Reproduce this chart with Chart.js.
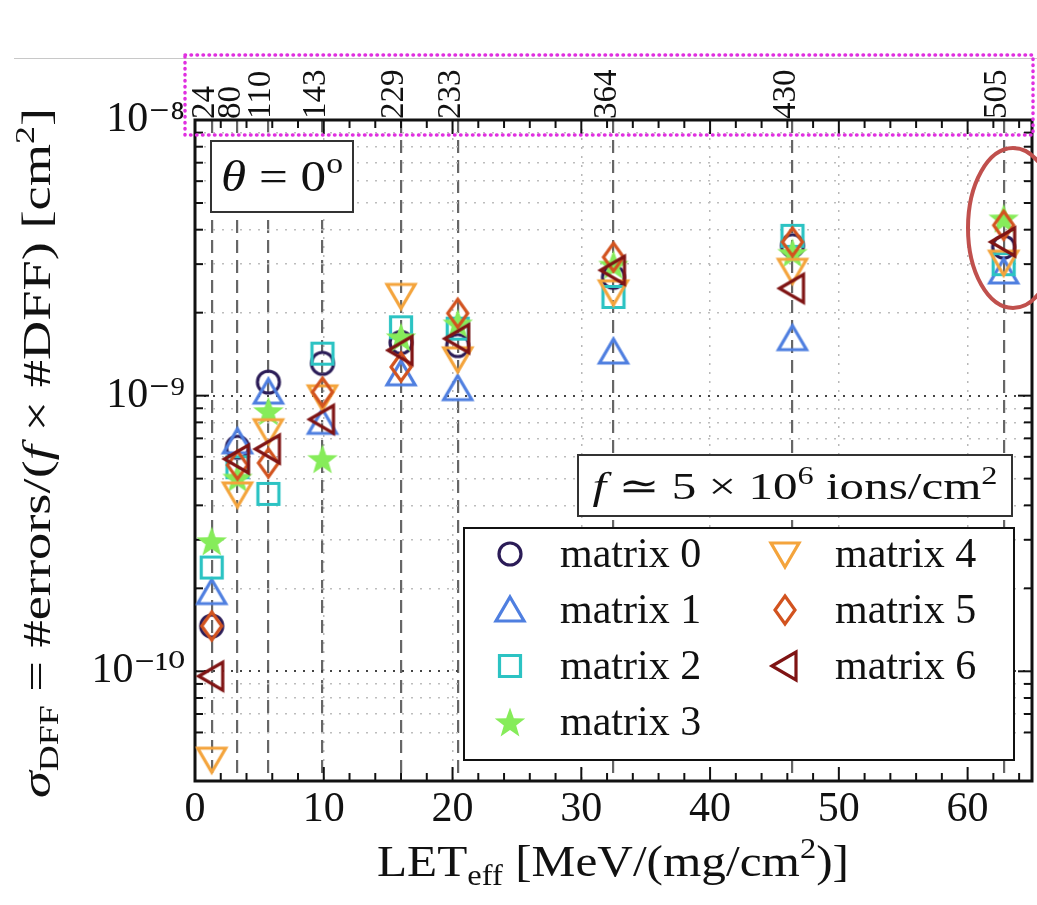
<!DOCTYPE html>
<html>
<head>
<meta charset="utf-8">
<script src="https://cdn.jsdelivr.net/npm/chart.js@4.4.1/dist/chart.umd.min.js"></script>
<style>
  html, body { margin: 0; padding: 0; background: #fff; }
  canvas { display: block; }
</style>
</head>
<body>
<canvas id="sigmaChart" width="1037" height="905"></canvas>
<script>
// LET of each beam and the beam labels printed on the top axis
const letValues = [1.3, 3.3, 5.7, 9.9, 16.0, 20.4, 32.5, 46.4, 62.8];
const beamLabels = ['24', '80', '110', '143', '229', '233', '364', '430', '505'];

const xTickValues = [0, 10, 20, 30, 40, 50, 60];
const yTickValues = [1e-10, 1e-9, 1e-8];
const yTickLabels = ['10⁻¹⁰', '10⁻⁹', '10⁻⁸'];

const matrixNames = ['matrix 0', 'matrix 1', 'matrix 2', 'matrix 3', 'matrix 4', 'matrix 5', 'matrix 6'];

// cross sections [cm^2], one value per beam
const matrix0 = [1.46e-10, 6.5e-10, 1.12e-9, 1.31e-9, 1.56e-9, 1.52e-9, 2.69e-9, 3.5e-9, 3.46e-9];
const matrix1 = [1.93e-10, 6.8e-10, 1.03e-9, 8.0e-10, 1.20e-9, 1.06e-9, 1.44e-9, 1.61e-9, 2.81e-9];
const matrix2 = [2.38e-10, 5.5e-10, 4.4e-10, 1.42e-9, 1.77e-9, 1.75e-9, 2.28e-9, 3.8e-9, 3.0e-9];
const matrix3 = [2.97e-10, 5.05e-10, 8.8e-10, 5.9e-10, 1.63e-9, 1.83e-9, 2.99e-9, 3.3e-9, 4.4e-9];
const matrix4 = [4.8e-11, 4.4e-10, 7.46e-10, 9.9e-10, 2.31e-9, 1.36e-9, 2.38e-9, 2.85e-9, 3.05e-9];
const matrix5 = [1.46e-10, 5.6e-10, 5.7e-10, 1.03e-9, 1.27e-9, 1.99e-9, 3.18e-9, 3.61e-9, 4.15e-9];
const matrix6 = [9.6e-11, 5.89e-10, 6.4e-10, 8.2e-10, 1.46e-9, 1.61e-9, 2.85e-9, 2.45e-9, 3.61e-9];

const seriesValues = [matrix0, matrix1, matrix2, matrix3, matrix4, matrix5, matrix6];
const seriesColors = ['#2b1c57', '#4f7fe0', '#2cc3c3', '#86ec5a', '#f4a43c', '#d2531f', '#7f1414'];
const seriesShapes = ['circle', 'up', 'square', 'star', 'down', 'diamond', 'left'];

const SERIF = "'Liberation Serif', 'DejaVu Serif', serif";

// minor grid values for the log axis
const yGridValues = [];
for (let e = -11; e <= -9; e++) {
    for (let m = 1; m <= 9; m++) {
        const v = m * Math.pow(10, e);
        if (v >= 5e-11 && v <= 1.0001e-8) yGridValues.push(v);
    }
}
yGridValues.push(1e-8);

function isDecade(v) {
    const e = Math.log10(v);
    return Math.abs(e - Math.round(e)) < 1e-6;
}

// draw marker shapes on small canvases so the plot and legend share them
function makeMarker(shape, color) {
    const c = document.createElement('canvas');
    c.width = 40; c.height = 40;
    const g = c.getContext('2d');
    const m = 20;
    g.strokeStyle = color;
    g.fillStyle = color;
    g.lineWidth = 3.2;
    g.lineJoin = 'miter';
    g.beginPath();
    if (shape === 'circle') {
        g.arc(m, m, 11, 0, Math.PI * 2);
    } else if (shape === 'square') {
        g.rect(m - 10.5, m - 10.5, 21, 21);
    } else if (shape === 'up') {
        g.moveTo(m, m - 13); g.lineTo(m + 14, m + 11); g.lineTo(m - 14, m + 11); g.closePath();
    } else if (shape === 'down') {
        g.moveTo(m, m + 13); g.lineTo(m + 14, m - 11); g.lineTo(m - 14, m - 11); g.closePath();
    } else if (shape === 'left') {
        g.moveTo(m - 13, m); g.lineTo(m + 11, m - 14); g.lineTo(m + 11, m + 14); g.closePath();
    } else if (shape === 'diamond') {
        g.moveTo(m, m - 14); g.lineTo(m + 10, m); g.lineTo(m, m + 14); g.lineTo(m - 10, m); g.closePath();
    } else if (shape === 'star') {
        for (let i = 0; i < 10; i++) {
            const r = i % 2 === 0 ? 16 : 6.5;
            const a = -Math.PI / 2 + i * Math.PI / 5;
            const px = m + r * Math.cos(a), py = m + 1.5 + r * Math.sin(a);
            if (i === 0) g.moveTo(px, py); else g.lineTo(px, py);
        }
        g.closePath();
        g.fill();
        return c;
    }
    g.stroke();
    return c;
}

const markers = seriesShapes.map((s, i) => makeMarker(s, seriesColors[i]));

const datasets = seriesValues.map((vals, i) => ({
    label: matrixNames[i],
    data: vals.map((v, j) => ({ x: letValues[j], y: v })),
    pointStyle: markers[i],
    pointRadius: 13,
    borderColor: seriesColors[i],
    backgroundColor: seriesColors[i],
    order: 6 - i
}));

// text with italic / sub / superscript runs, optionally stretched to a width
function drawRich(ctx, runs, opts) {
    const base = opts.size;
    let total = 0;
    const parts = runs.map(r => {
        const size = (r.sub || r.sup) ? base * 0.66 : base;
        const font = (r.italic ? 'italic ' : '') + size + 'px ' + SERIF;
        ctx.font = font;
        const w = ctx.measureText(r.t).width;
        total += w;
        return { t: r.t, font: font, w: w, dy: r.sub ? base * 0.2 : (r.sup ? -base * 0.4 : 0) };
    });
    ctx.save();
    ctx.translate(opts.x, opts.y);
    if (opts.rotate) ctx.rotate(opts.rotate);
    if (opts.width) ctx.scale(opts.width / total, 1);
    ctx.fillStyle = '#111';
    ctx.textBaseline = 'alphabetic';
    ctx.textAlign = 'left';
    let x = opts.align === 'left' ? 0 : -total / 2;
    parts.forEach(p => {
        ctx.font = p.font;
        ctx.fillText(p.t, x, p.dy);
        x += p.w;
    });
    ctx.restore();
}

function line(ctx, x1, y1, x2, y2) {
    ctx.beginPath();
    ctx.moveTo(x1, y1);
    ctx.lineTo(x2, y2);
    ctx.stroke();
}

// keep the plot area fixed: no extra side padding from edge labels
function noSidePadding(scale) {
    scale.paddingLeft = 0;
    scale.paddingRight = 0;
}

const decorPlugin = {
    id: 'decor',
    beforeDatasetsDraw(chart) {
        const ctx = chart.ctx;
        const a = chart.chartArea;
        const xs = chart.scales.x, ys = chart.scales.y;
        ctx.save();
        ctx.strokeStyle = '#111';
        ctx.lineWidth = 2;
        // inward ticks
        for (let v = 0; v <= 64; v += 2) {
            const px = xs.getPixelForValue(v);
            const len = v % 10 === 0 ? 14 : 8;
            line(ctx, px, a.bottom, px, a.bottom - len);
            line(ctx, px, a.top, px, a.top + len);
        }
        yGridValues.forEach(v => {
            const py = ys.getPixelForValue(v);
            const len = isDecade(v) ? 14 : 8;
            line(ctx, a.left, py, a.left + len, py);
            line(ctx, a.right, py, a.right - len, py);
        });
        ctx.lineWidth = 3;
        ctx.strokeRect(a.left, a.top, a.right - a.left, a.bottom - a.top);
        ctx.restore();
    },
    afterDatasetsDraw(chart) {
        const ctx = chart.ctx;
        ctx.save();

        // theta box
        ctx.fillStyle = '#fff';
        ctx.strokeStyle = '#333';
        ctx.lineWidth = 2;
        ctx.fillRect(211, 141, 142, 71);
        ctx.strokeRect(211, 141, 142, 71);
        drawRich(ctx, [{ t: 'θ', italic: true }, { t: ' = 0' }, { t: 'o', sup: true }],
            { x: 282, y: 191, size: 44, width: 122 });

        // fluence box
        ctx.fillStyle = '#fff';
        ctx.fillRect(578, 455, 434, 61);
        ctx.strokeRect(578, 455, 434, 61);
        drawRich(ctx, [{ t: 'f', italic: true }, { t: ' ≃ 5 × 10' }, { t: '6', sup: true },
            { t: ' ions/cm' }, { t: '2', sup: true }],
            { x: 795, y: 499, size: 38, width: 405 });

        // legend
        ctx.fillStyle = '#fff';
        ctx.fillRect(464, 528, 550, 232);
        ctx.strokeStyle = '#111';
        ctx.strokeRect(464, 528, 550, 232);
        const rowsY = [554, 610, 666, 722];
        matrixNames.forEach((name, i) => {
            const col = i < 4 ? 0 : 1;
            const row = i < 4 ? i : i - 4;
            const mx = col === 0 ? 510 : 785;
            const my = rowsY[row];
            const mk = markers[i];
            ctx.drawImage(mk, mx - mk.width / 2, my - mk.height / 2);
            drawRich(ctx, [{ t: name }], { x: mx + 50, y: my + 13, size: 42, align: 'left' });
        });

        // axis titles
        drawRich(ctx, [{ t: 'σ', italic: true }, { t: 'DFF', sub: true }, { t: ' = #errors/(' },
            { t: 'f', italic: true }, { t: ' × #DFF) [cm' }, { t: '2', sup: true }, { t: ']' }],
            { x: 50, y: 453, size: 40, rotate: -Math.PI / 2, width: 690 });
        drawRich(ctx, [{ t: 'LET' }, { t: 'eff', sub: true }, { t: ' [MeV/(mg/cm' }, { t: '2', sup: true }, { t: ')]' }],
            { x: 613, y: 876, size: 44, width: 472 });
        ctx.restore();
    },
    afterDraw(chart) {
        const ctx = chart.ctx;
        ctx.save();
        ctx.strokeStyle = '#c8c8c8';
        ctx.lineWidth = 1;
        line(ctx, 14, 58.5, 1037, 58.5);

        // dotted highlight round the beam labels
        ctx.strokeStyle = '#e030e0';
        ctx.lineWidth = 3.5;
        ctx.lineCap = 'round';
        ctx.setLineDash([0.5, 5.5]);
        ctx.strokeRect(185, 55, 848, 80);
        ctx.setLineDash([]);

        // red ellipse round the 505 beam
        ctx.strokeStyle = '#c0504d';
        ctx.lineWidth = 4;
        ctx.beginPath();
        ctx.ellipse(1013, 228, 45, 80, 0, 0, Math.PI * 2);
        ctx.stroke();
        ctx.restore();
    }
};

const canvas = document.getElementById('sigmaChart');

new Chart(canvas.getContext('2d'), {
    type: 'scatter',
    data: { datasets: datasets },
    options: {
        responsive: false,
        devicePixelRatio: 1,
        animation: false,
        layout: { autoPadding: false, padding: { left: 0, right: 5, top: 0, bottom: 0 } },
        plugins: {
            legend: { display: false },
            tooltip: { enabled: false }
        },
        scales: {
            x: {
                type: 'linear',
                position: 'bottom',
                min: 0,
                max: 65,
                afterBuildTicks: scale => { scale.ticks = xTickValues.map(v => ({ value: v })); },
                afterFit: scale => { scale.height = 124; noSidePadding(scale); },
                ticks: {
                    font: { family: SERIF, size: 42 },
                    color: '#111',
                    padding: 4,
                    maxRotation: 0,
                    autoSkip: false
                },
                grid: { color: '#b8b8b8', lineWidth: 1.5, drawTicks: false },
                border: { display: false, dash: [2, 7] }
            },
            xTop: {
                type: 'linear',
                position: 'top',
                min: 0,
                max: 65,
                afterBuildTicks: scale => { scale.ticks = letValues.map(v => ({ value: v })); },
                afterFit: scale => { scale.height = 120; noSidePadding(scale); },
                ticks: {
                    callback: (value, index) => beamLabels[index],
                    font: { family: SERIF, size: 33 },
                    color: '#111',
                    padding: 1,
                    labelOffset: 33,
                    minRotation: 90,
                    maxRotation: 90,
                    autoSkip: false
                },
                grid: { color: '#666', lineWidth: 2.2, drawTicks: false },
                border: { display: false, dash: [13, 7] }
            },
            y: {
                type: 'logarithmic',
                position: 'left',
                min: 4e-11,
                max: 1e-8,
                afterBuildTicks: scale => { scale.ticks = yGridValues.map(v => ({ value: v })); },
                afterFit: scale => { scale.width = 195; },
                ticks: {
                    callback: value => {
                        const k = yTickValues.findIndex(t => Math.abs(t - value) / t < 1e-6);
                        return k >= 0 ? yTickLabels[k] : '';
                    },
                    font: { family: SERIF, size: 42 },
                    color: '#111',
                    padding: 10,
                    autoSkip: false
                },
                grid: {
                    color: c => (c.tick && isDecade(c.tick.value)) ? '#444' : '#bdbdbd',
                    lineWidth: c => (c.tick && isDecade(c.tick.value)) ? 2 : 1.5,
                    drawTicks: false
                },
                border: { display: false, dash: [2, 7] }
            }
        }
    },
    plugins: [decorPlugin]
});
</script>
</body>
</html>
